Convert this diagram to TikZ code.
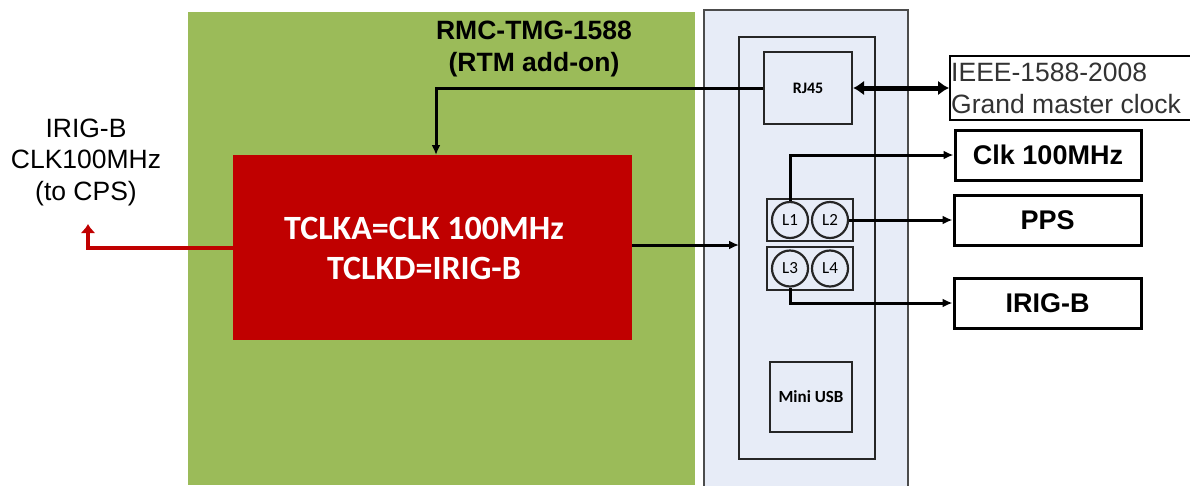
\documentclass[tikz,border=0pt]{standalone}
\usepackage{fontspec}
\setmainfont{Liberation Sans}
\newfontfamily\calib{Carlito}
\usetikzlibrary{arrows.meta}
\definecolor{pgreen}{HTML}{9BBB59}
\definecolor{pblue}{HTML}{E7ECF7}
\definecolor{pred}{HTML}{C00000}
\tikzset{
  box/.style={draw=black!85,line width=2.2pt},
  outbox/.style={draw=black,line width=3pt,fill=white},
  conn/.style={draw=black,line width=3pt,-{Latex[length=10pt,width=9pt]}},
  port/.style={circle,draw=black!85,line width=2.2pt,minimum size=36pt,inner sep=0pt,font=\calib\fontsize{17}{17}\selectfont},
}
\begin{document}
\begin{tikzpicture}[x=1pt,y=-1pt]
\useasboundingbox (0,0) rectangle (1190,485);
% backgrounds
\fill[pgreen] (188,12) rectangle (695,485);
\filldraw[fill=pblue,draw=black!70,line width=1.8pt] (704,10) rectangle (908,492);
\draw[box] (739,37) rectangle (875,459);
% title
\node[font=\bfseries\fontsize{26.5}{32}\selectfont,align=center] (title) at (534,49) {RMC-TMG-1588\\(RTM add-on)};
% red box
\node[fill=pred,minimum width=399pt,minimum height=185pt,inner sep=0pt] (tclk) at (432.5,247.5) {};
\node[text=white,font=\calib\bfseries\fontsize{34}{40}\selectfont,align=center] (tclktxt) at (424,248) {TCLKA=CLK 100MHz\\TCLKD=IRIG-B};
% RJ45
\node[box,minimum width=88pt,minimum height=72pt,inner sep=0pt,font=\calib\bfseries\fontsize{16}{18}\selectfont] (rj) at (808,88) {RJ45};
% Mini USB
\node[box,minimum width=82pt,minimum height=70pt,inner sep=0pt,font=\calib\bfseries\fontsize{17}{19}\selectfont] (usb) at (811,397) {Mini USB};
% port boxes
\node[box,minimum width=86pt,minimum height=42pt,inner sep=0pt] (p12) at (810,220) {};
\node[box,minimum width=86pt,minimum height=43pt,inner sep=0pt] (p34) at (810,268.5) {};
\node[port] (L1) at (790,220) {L1};
\node[port] (L2) at (830,220) {L2};
\node[port] (L3) at (790,268.5) {L3};
\node[port] (L4) at (830,268.5) {L4};
% right boxes
\draw[line width=2.4pt] (1195,56) -- (950,56) -- (950,120) -- (1195,120);
\node[anchor=west,align=left,text=black!80,font=\fontsize{26.5}{32}\selectfont,inner sep=0pt] (ieee) at (951,88) {IEEE-1588-2008\\Grand master clock};
\coordinate (ieeein) at (949,88);
\node[outbox,minimum width=186pt,minimum height=50pt,inner sep=0pt,font=\bfseries\fontsize{27}{30}\selectfont] (clk) at (1048,155) {Clk 100MHz};
\node[outbox,minimum width=187pt,minimum height=50pt,inner sep=0pt,font=\bfseries\fontsize{27}{30}\selectfont] (pps) at (1047.5,220) {PPS};
\node[outbox,minimum width=187pt,minimum height=50pt,inner sep=0pt,font=\bfseries\fontsize{27}{30}\selectfont] (irig) at (1047.5,303) {IRIG-B};
% left label
\node[font=\fontsize{26.5}{31.5}\selectfont,align=center] (cps) at (86,162) {IRIG-B\\CLK100MHz\\(to CPS)};
\coordinate (cpsend) at (88,224);
% connectors
\draw[line width=4.5pt,-{Latex[length=9pt,width=15pt]},draw=pred] (tclk.west |- 0,248) -- (88,248) -- (cpsend);
\draw[conn] (rj.west) -- (436,88) -- (436,155);
\draw[line width=5pt,{Latex[length=11pt,width=15pt]}-{Latex[length=11pt,width=15pt]}] (rj.east) -- (ieeein);
\draw[conn] (tclk.east |- 0,245) -- (739,245);
\draw[conn] (L1.north) -- (790,155) -- (clk.west);
\draw[conn] (L2.east) -- (pps.west);
\draw[conn] (L3.south) -- (790,303) -- (irig.west);
\end{tikzpicture}
\end{document}
